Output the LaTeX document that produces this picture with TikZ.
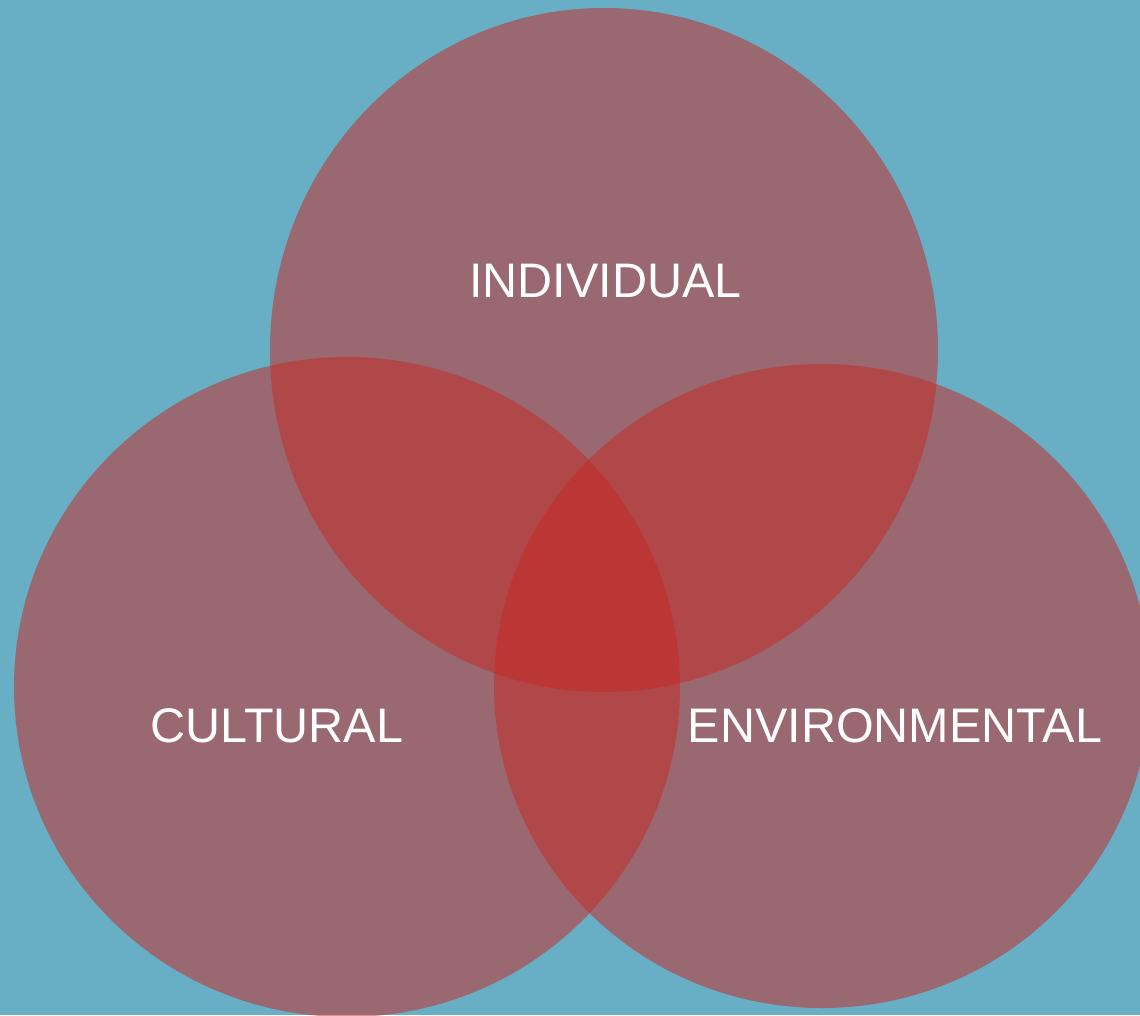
\documentclass[tikz,border=0pt]{standalone}
\usepackage{fontspec}
\setmainfont{Liberation Sans}
\usepackage{xcolor}
\usetikzlibrary{shapes,positioning}

\definecolor{bgteal}{RGB}{104,174,197}
\definecolor{vennred}{RGB}{198,42,37}

\begin{document}
\begin{tikzpicture}[
    set/.style={ellipse, inner sep=0pt, fill=vennred, fill opacity=0.53, draw=none},
    lbl/.style={anchor=base, text=white, font=\fontsize{13.8}{16}\selectfont}
]

% Background
\fill[bgteal] (0,0) rectangle (11.4,10.15);
\useasboundingbox (0,0) rectangle (11.4,10.15);
\clip (0,0) rectangle (11.4,10.15);

% Sets
\node[set, minimum width=6.68cm, minimum height=6.84cm] (indiv) at (6.04,6.65) {};
\node[set, minimum width=6.66cm, minimum height=6.60cm] (cult) at (3.47,3.28) {};
\node[set, minimum width=6.56cm, minimum height=6.44cm] (env) at (8.22,3.29) {};

% Labels
\node[lbl] (indivlbl) at (6.055,7.18) {INDIVIDUAL};
\node[lbl] (cultlbl) at (2.77,2.73) {CULTURAL};
\node[lbl] (envlbl) at (8.95,2.73) {ENVIRONMENTAL};

\end{tikzpicture}
\end{document}
